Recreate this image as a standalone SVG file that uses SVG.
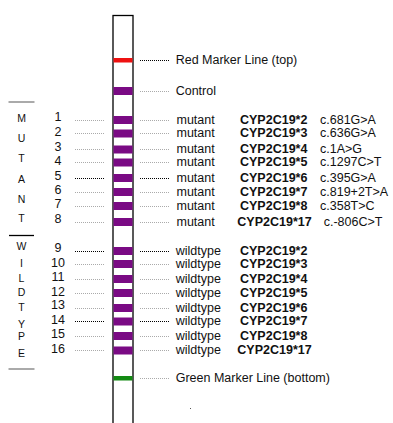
<svg xmlns="http://www.w3.org/2000/svg" width="393" height="423" viewBox="0 0 393 423">
<style>
text{font-family:"Liberation Sans",Arial,sans-serif;fill:#111}
.t{font-size:12.5px}
.b{font-size:12.5px;font-weight:bold}
.n{font-size:12.5px;text-anchor:middle}
.v{font-size:10.5px;text-anchor:middle}
.band{fill:#7a0a84}
.dg{stroke:#aaa;stroke-width:1;stroke-dasharray:1 1;fill:none}
.dk{stroke:#000;stroke-width:1;stroke-dasharray:1 1;fill:none}
</style>
<rect width="393" height="423" fill="#fff"/>
<g id="strip">
<rect x="113" y="15.5" width="20" height="420" fill="#fff" stroke="#000" stroke-width="1.3"/>
</g>
<g id="group-labels">
<line x1="8.5" y1="102" x2="34.5" y2="102" stroke="#aaa" stroke-width="2"/>
<line x1="9" y1="235.5" x2="34" y2="235.5" stroke="#000" stroke-width="1.3"/>
<line x1="8.5" y1="369" x2="34.5" y2="369" stroke="#aaa" stroke-width="2"/>
<text class="v" x="21.5" y="121.7">M</text>
<text class="v" x="21.5" y="142.3">U</text>
<text class="v" x="21.5" y="161.7">T</text>
<text class="v" x="21.5" y="183.3">A</text>
<text class="v" x="21.5" y="202.7">N</text>
<text class="v" x="21.5" y="222.3">T</text>
<text class="v" x="21.5" y="250">W</text>
<text class="v" x="21.5" y="266.7">I</text>
<text class="v" x="21.5" y="281.7">L</text>
<text class="v" x="21.5" y="296">D</text>
<text class="v" x="21.5" y="311">T</text>
<text class="v" x="21.5" y="327.7">Y</text>
<text class="v" x="21.5" y="340">P</text>
<text class="v" x="21.5" y="357.3">E</text>
</g>
<g id="connectors">
<line class="dk" x1="140" y1="60.5" x2="169" y2="60.5"/>
<line class="dg" x1="140" y1="91.5" x2="169" y2="91.5"/>
<line class="dg" x1="75" y1="120.5" x2="105" y2="120.5"/><line class="dg" x1="140" y1="120.5" x2="169" y2="120.5"/>
<line class="dg" x1="75" y1="133.5" x2="105" y2="133.5"/><line class="dg" x1="140" y1="133.5" x2="169" y2="133.5"/>
<line class="dg" x1="75" y1="149.5" x2="105" y2="149.5"/><line class="dg" x1="140" y1="149.5" x2="169" y2="149.5"/>
<line class="dg" x1="75" y1="162.5" x2="105" y2="162.5"/><line class="dg" x1="140" y1="162.5" x2="169" y2="162.5"/>
<line class="dk" x1="75" y1="178.5" x2="105" y2="178.5"/><line class="dk" x1="140" y1="178.5" x2="169" y2="178.5"/>
<line class="dg" x1="75" y1="192.5" x2="105" y2="192.5"/><line class="dg" x1="140" y1="192.5" x2="169" y2="192.5"/>
<line class="dg" x1="75" y1="206.5" x2="105" y2="206.5"/><line class="dg" x1="140" y1="206.5" x2="169" y2="206.5"/>
<line class="dg" x1="75" y1="222.5" x2="105" y2="222.5"/><line class="dg" x1="140" y1="222.5" x2="169" y2="222.5"/>
<line class="dk" x1="75" y1="251.5" x2="105" y2="251.5"/><line class="dk" x1="140" y1="251.5" x2="169" y2="251.5"/>
<line class="dg" x1="75" y1="264.5" x2="105" y2="264.5"/><line class="dg" x1="140" y1="264.5" x2="169" y2="264.5"/>
<line class="dg" x1="75" y1="279.5" x2="105" y2="279.5"/><line class="dg" x1="140" y1="279.5" x2="169" y2="279.5"/>
<line class="dg" x1="75" y1="293.5" x2="105" y2="293.5"/><line class="dg" x1="140" y1="293.5" x2="169" y2="293.5"/>
<line class="dg" x1="75" y1="308.5" x2="105" y2="308.5"/><line class="dg" x1="140" y1="308.5" x2="169" y2="308.5"/>
<line class="dk" x1="75" y1="321.5" x2="105" y2="321.5"/><line class="dk" x1="140" y1="321.5" x2="169" y2="321.5"/>
<line class="dg" x1="75" y1="336.5" x2="105" y2="336.5"/><line class="dg" x1="140" y1="336.5" x2="169" y2="336.5"/>
<line class="dg" x1="75" y1="350.5" x2="105" y2="350.5"/><line class="dg" x1="140" y1="350.5" x2="169" y2="350.5"/>
<line class="dg" x1="140" y1="378.5" x2="169" y2="378.5"/>
</g>
<g id="red-marker"><rect x="113.5" y="58" width="19" height="4.5" fill="#ee1111"/><text class="t" x="175.7" y="64">Red Marker Line (top)</text></g>
<g id="control"><rect class="band" x="113.5" y="87" width="19" height="8"/><text class="t" x="175.7" y="95">Control</text></g>
<g id="m1"><rect class="band" x="113.5" y="116" width="19" height="8"/><text class="n" x="58" y="121">1</text><text class="t" x="176.5" y="123.5">mutant</text><text class="b" x="240" y="123.5">CYP2C19*2</text><text class="t" x="320" y="123.5">c.681G&gt;A</text></g>
<g id="m2"><rect class="band" x="113.5" y="129.5" width="19" height="8"/><text class="n" x="58" y="136">2</text><text class="t" x="176.5" y="137">mutant</text><text class="b" x="240" y="137">CYP2C19*3</text><text class="t" x="320" y="137">c.636G&gt;A</text></g>
<g id="m3"><rect class="band" x="113.5" y="145.5" width="19" height="8"/><text class="n" x="58" y="150.5">3</text><text class="t" x="176.5" y="153">mutant</text><text class="b" x="240" y="153">CYP2C19*4</text><text class="t" x="320" y="153">c.1A&gt;G</text></g>
<g id="m4"><rect class="band" x="113.5" y="158.5" width="19" height="8"/><text class="n" x="58" y="165">4</text><text class="t" x="176.5" y="166">mutant</text><text class="b" x="240" y="166">CYP2C19*5</text><text class="t" x="320" y="166">c.1297C&gt;T</text></g>
<g id="m5"><rect class="band" x="113.5" y="174" width="19" height="8"/><text class="n" x="58" y="180">5</text><text class="t" x="176.5" y="181.5">mutant</text><text class="b" x="240" y="181.5">CYP2C19*6</text><text class="t" x="320" y="181.5">c.395G&gt;A</text></g>
<g id="m6"><rect class="band" x="113.5" y="188" width="19" height="8"/><text class="n" x="58" y="194">6</text><text class="t" x="176.5" y="195.5">mutant</text><text class="b" x="240" y="195.5">CYP2C19*7</text><text class="t" x="320" y="195.5">c.819+2T&gt;A</text></g>
<g id="m7"><rect class="band" x="113.5" y="202" width="19" height="8"/><text class="n" x="58" y="207.5">7</text><text class="t" x="176.5" y="209.5">mutant</text><text class="b" x="240" y="209.5">CYP2C19*8</text><text class="t" x="320" y="209.5">c.358T&gt;C</text></g>
<g id="m8"><rect class="band" x="113.5" y="218" width="19" height="8"/><text class="n" x="58" y="222.5">8</text><text class="t" x="176.5" y="225.5">mutant</text><text class="b" x="237.3" y="225.5">CYP2C19*17</text><text class="t" x="323.7" y="225.5">c.-806C&gt;T</text></g>
<g id="w9"><rect class="band" x="113.5" y="247" width="19" height="8"/><text class="n" x="58" y="251.7">9</text><text class="t" x="175.7" y="254.5">wildtype</text><text class="b" x="240" y="254.5">CYP2C19*2</text></g>
<g id="w10"><rect class="band" x="113.5" y="260" width="19" height="8"/><text class="n" x="58" y="266.7">10</text><text class="t" x="175.7" y="267.5">wildtype</text><text class="b" x="240" y="267.5">CYP2C19*3</text></g>
<g id="w11"><rect class="band" x="113.5" y="275" width="19" height="8"/><text class="n" x="58" y="280.7">11</text><text class="t" x="175.7" y="282.5">wildtype</text><text class="b" x="240" y="282.5">CYP2C19*4</text></g>
<g id="w12"><rect class="band" x="113.5" y="289" width="19" height="8"/><text class="n" x="58" y="295.7">12</text><text class="t" x="175.7" y="296.5">wildtype</text><text class="b" x="240" y="296.5">CYP2C19*5</text></g>
<g id="w13"><rect class="band" x="113.5" y="304" width="19" height="8"/><text class="n" x="58" y="309.3">13</text><text class="t" x="175.7" y="311.5">wildtype</text><text class="b" x="240" y="311.5">CYP2C19*6</text></g>
<g id="w14"><rect class="band" x="113.5" y="317.5" width="19" height="8"/><text class="n" x="58" y="324">14</text><text class="t" x="175.7" y="325">wildtype</text><text class="b" x="240" y="325">CYP2C19*7</text></g>
<g id="w15"><rect class="band" x="113.5" y="332" width="19" height="8"/><text class="n" x="58" y="338.3">15</text><text class="t" x="175.7" y="339.5">wildtype</text><text class="b" x="240" y="339.5">CYP2C19*8</text></g>
<g id="w16"><rect class="band" x="113.5" y="346.5" width="19" height="8"/><text class="n" x="58" y="353.3">16</text><text class="t" x="175.7" y="354">wildtype</text><text class="b" x="237.3" y="354">CYP2C19*17</text></g>
<g id="green-marker"><rect x="113.5" y="376" width="19" height="4.5" fill="#138a13"/><text class="t" x="175.7" y="382">Green Marker Line (bottom)</text></g>
<rect x="190" y="408" width="1" height="1" fill="#555"/>
</svg>
